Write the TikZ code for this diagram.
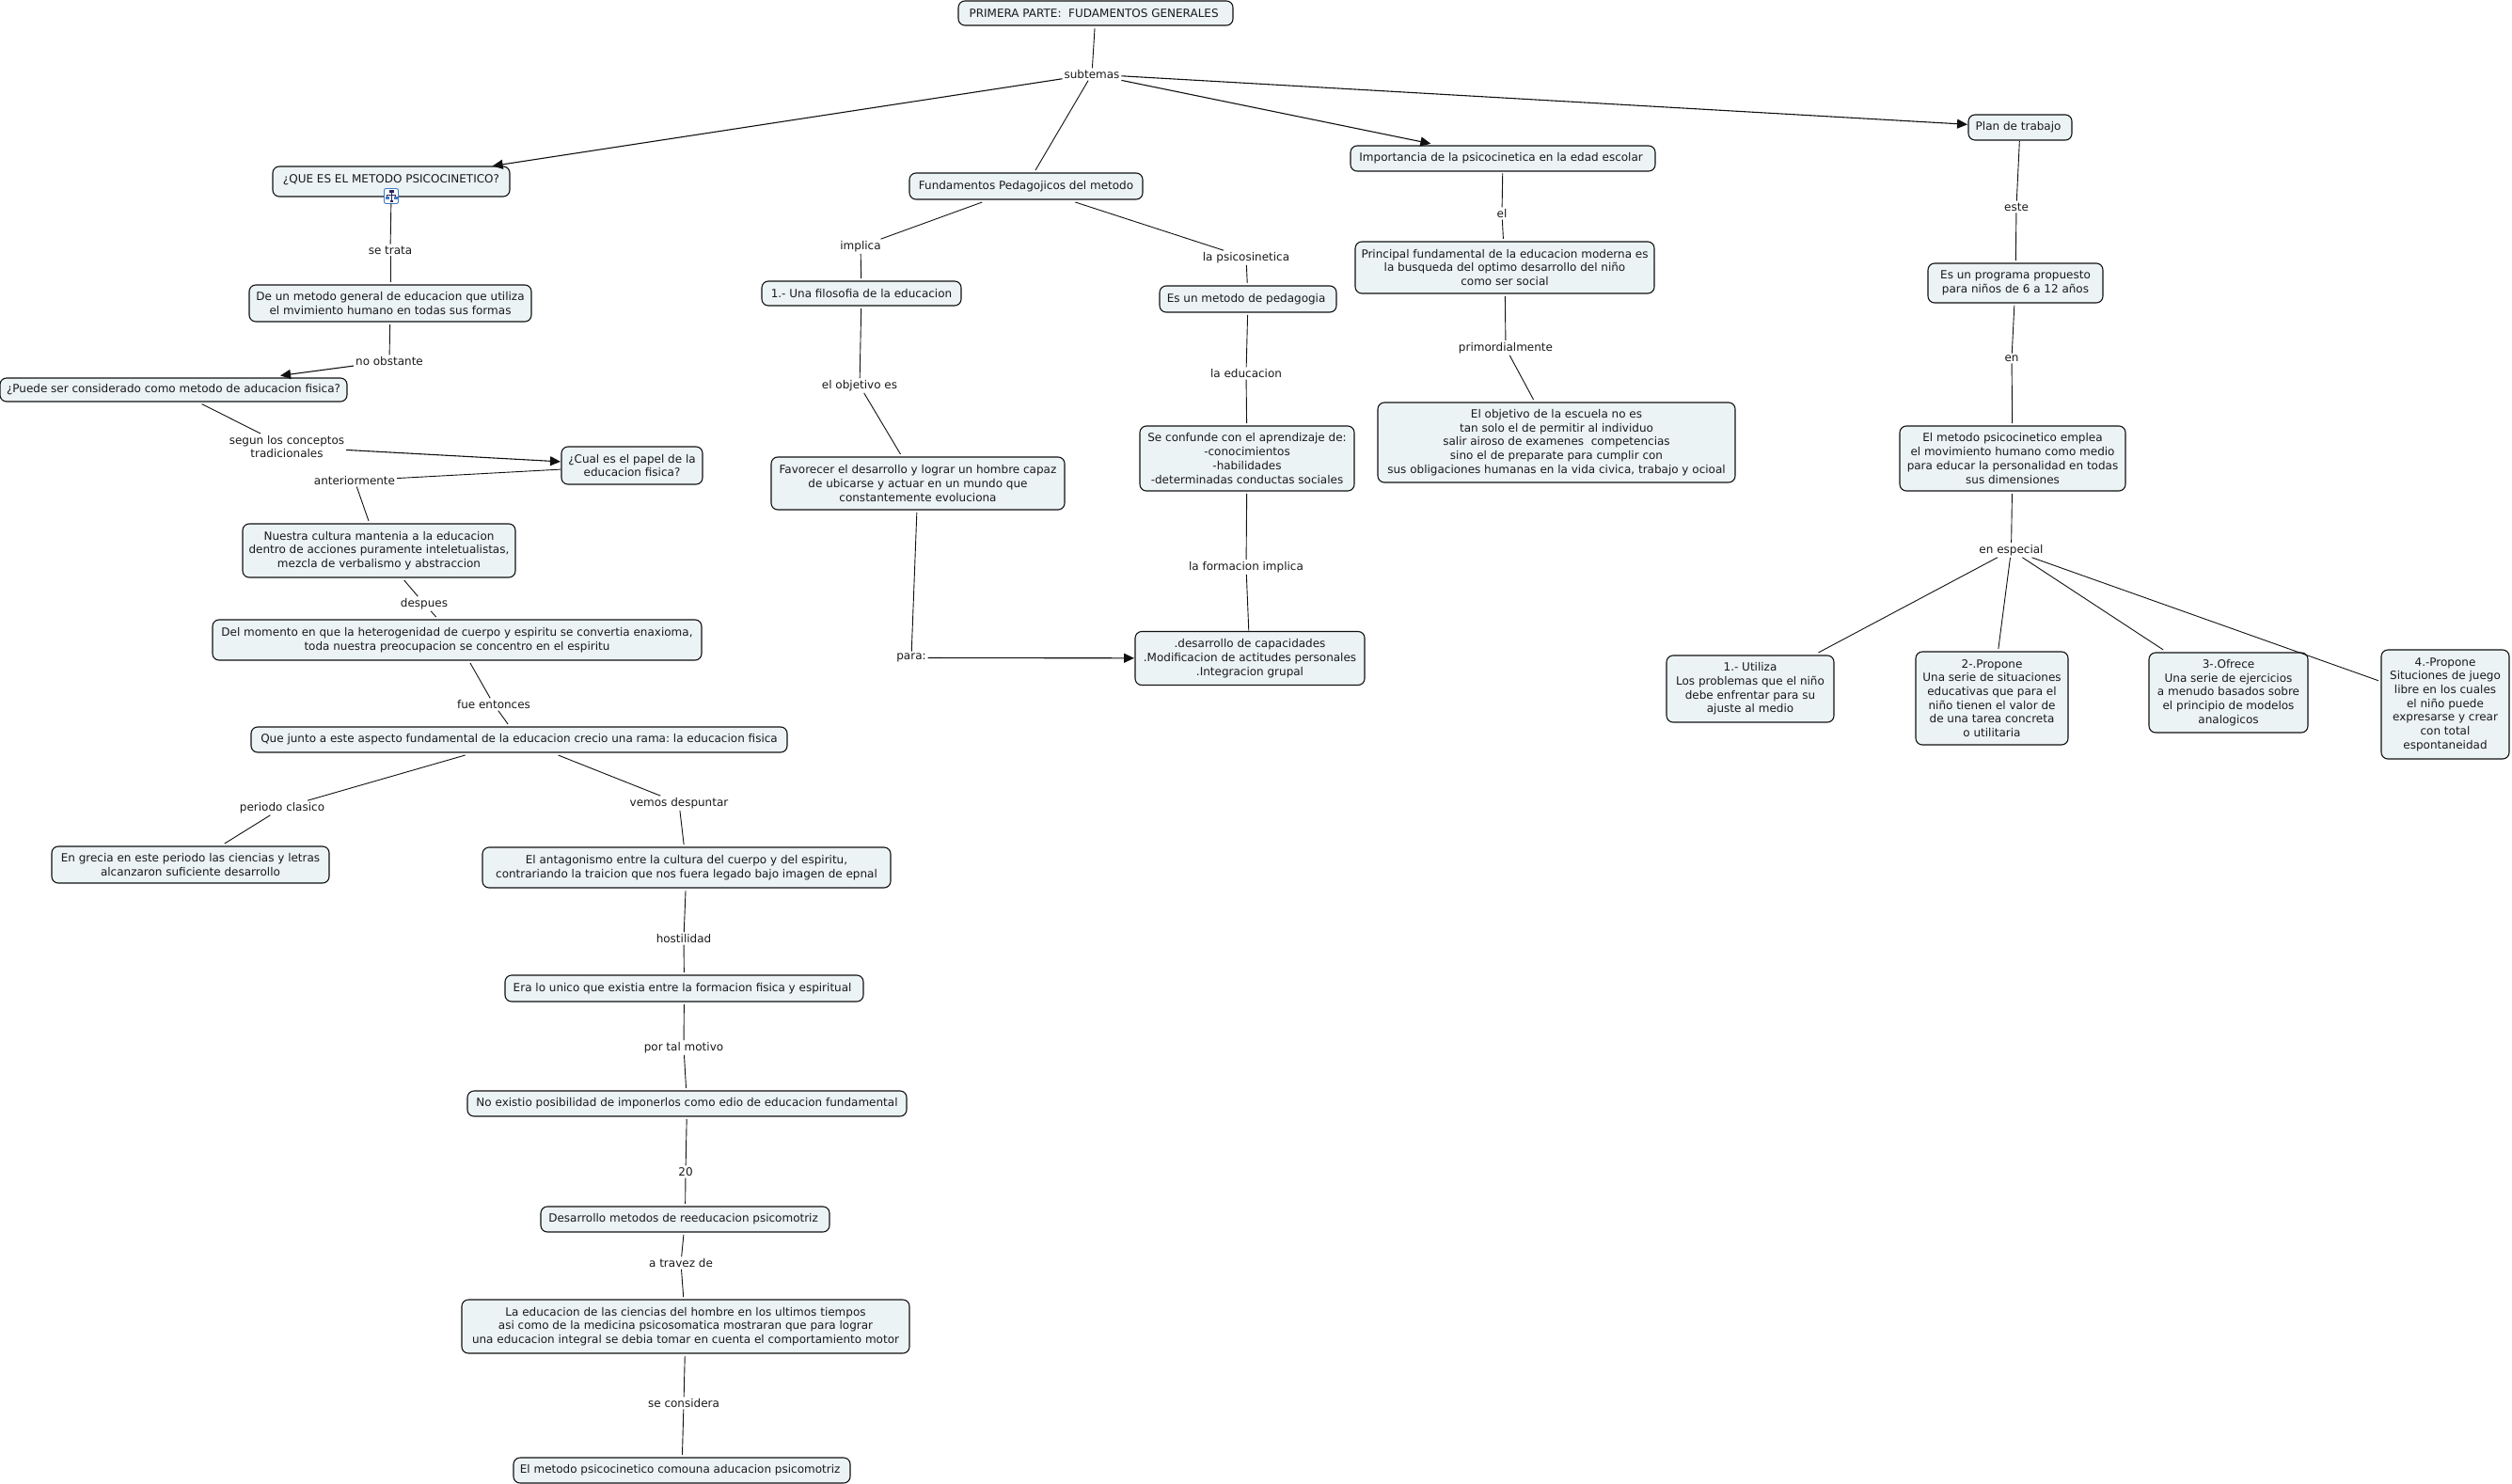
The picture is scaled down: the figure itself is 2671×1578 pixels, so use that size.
\documentclass[tikz,border=0pt]{standalone}
\usepackage{fontspec}
\setmainfont{DejaVu Sans}
\usetikzlibrary{arrows.meta}
\definecolor{boxfill}{HTML}{ECF3F5}
\definecolor{boxline}{HTML}{111111}
\definecolor{iconblue}{HTML}{3C78C8}
\definecolor{iconnavy}{HTML}{28285A}

\begin{document}
\begin{tikzpicture}[x=1pt, y=-1pt,
    every node/.style={font=\fontsize{12}{14.7}\selectfont, text=black!90},
    concept/.style={draw=boxline, fill=boxfill, rounded corners=7pt, line width=1.1pt, align=center, inner sep=0pt, outer sep=3pt},
    linker/.style={align=center, inner sep=2pt, outer sep=0pt},
    link/.style={draw=boxline, line width=0.9pt},
    linkto/.style={link, line width=1.1pt, -{Stealth[length=11pt, width=10pt, inset=0pt]}}]
  \useasboundingbox (0,0) rectangle (2671,1578);

  % Top of the map
  \node[concept, minimum width=292pt, minimum height=26pt] (top) at (1165,14) {PRIMERA PARTE:\ \ FUDAMENTOS GENERALES\ \null};
  \node[linker] (subtemas) at (1161,79) {subtemas};
  \node[concept, outer sep=0.5pt, minimum width=252pt, minimum height=32pt, text depth=5pt] (qmetodo) at (416,193) {¿QUE ES EL METODO PSICOCINETICO?};
  \node[concept, minimum width=248pt, minimum height=28pt] (fundamentos) at (1091,198) {Fundamentos Pedagojicos del metodo};
  \node[concept, outer sep=2.2pt, minimum width=324pt, minimum height=27pt] (importancia) at (1598,168.5) {Importancia de la psicocinetica en la edad escolar\ \null};
  \node[concept, outer sep=1pt, minimum width=110pt, minimum height=27pt] (plan) at (2148,135.5) {Plan de trabajo\ \null};

  % Icon on the first question
  \node[draw=iconblue, fill=white, rounded corners=2pt, line width=0.9pt, minimum width=15pt, minimum height=16pt, inner sep=0pt, outer sep=0pt] (qicon) at (416,208.5) {};
  \draw[iconnavy, line width=0.5pt] (416,203.5) -- (416,207) (411.5,211) -- (411.5,207) -- (420.5,207) -- (420.5,211) (416,207) -- (416,214);
  \fill[iconnavy] (413.5,202) rectangle (418.5,205);
  \fill[iconblue] (409.5,209) rectangle (413.5,212);
  \fill[iconblue] (418.5,209) rectangle (422.5,212);
  \fill[iconnavy] (414.5,213) rectangle (417.5,215.5);

  % Left branch
  \node[linker] (setrata) at (415,266) {se trata};
  \node[concept, minimum width=300pt, minimum height=39pt] (metodogral) at (415,322.5) {De un metodo general de educacion que utiliza\\el mvimiento humano en todas sus formas};
  \node[linker] (noobstante) at (414,384) {no obstante};
  \node[concept, outer sep=2.6pt, minimum width=369pt, minimum height=25pt] (puede) at (184.5,414.5) {¿Puede ser considerado como metodo de aducacion fisica?};
  \node[linker] (segun) at (305,475) {segun los conceptos\\tradicionales};
  \node[concept, outer sep=1pt, minimum width=150pt, minimum height=40pt] (cual) at (672,495) {¿Cual es el papel de la\\educacion fisica?};
  \node[linker] (anteriormente) at (377,511) {anteriormente};
  \node[concept, minimum width=290pt, minimum height=57pt] (nuestra) at (403,585.5) {Nuestra cultura mantenia a la educacion\\dentro de acciones puramente inteletualistas,\\mezcla de verbalismo y abstraccion};
  \node[linker] (despues) at (451,642) {despues};
  \node[concept, minimum width=520pt, minimum height=43pt] (momento) at (486,680.5) {Del momento en que la heterogenidad de cuerpo y espiritu se convertia enaxioma,\\toda nuestra preocupacion se concentro en el espiritu};
  \node[linker] (entonces) at (525,749) {fue entonces};
  \node[concept, minimum width=570pt, minimum height=27pt] (junto) at (552,786.5) {Que junto a este aspecto fundamental de la educacion crecio una rama:\ la educacion fisica};
  \node[linker] (periodo) at (300,859) {periodo clasico};
  \node[concept, minimum width=295pt, minimum height=39pt] (grecia) at (202.5,919.5) {En grecia en este periodo las ciencias y letras\\alcanzaron suficiente desarrollo};
  \node[linker] (vemos) at (722,854) {vemos despuntar};
  \node[concept, minimum width=434pt, minimum height=43pt] (antagonismo) at (730,922.5) {El antagonismo entre la cultura del cuerpo y del espiritu,\\contrariando la traicion que nos fuera legado bajo imagen de epnal};
  \node[linker] (hostilidad) at (727,998) {hostilidad};
  \node[concept, minimum width=381pt, minimum height=28pt] (era) at (727.5,1051) {Era lo unico que existia entre la formacion fisica y espiritual\ \null};
  \node[linker] (motivo) at (727,1114) {por tal motivo};
  \node[concept, minimum width=467pt, minimum height=27pt] (noexistio) at (730.5,1173.5) {No existio posibilidad de imponerlos como edio de educacion fundamental};
  \node[linker] (veinte) at (729,1246) {20};
  \node[concept, minimum width=307pt, minimum height=27pt] (desarrollo) at (728.5,1296.5) {Desarrollo metodos de reeducacion psicomotriz\ \null};
  \node[linker] (travez) at (724,1343) {a travez de};
  \node[concept, minimum width=476pt, minimum height=57pt] (ciencias) at (729,1410.5) {La educacion de las ciencias del hombre en los ultimos tiempos\\asi como de la medicina psicosomatica mostraran que para lograr\\una educacion integral se debia tomar en cuenta el comportamiento motor};
  \node[linker] (considera) at (727,1492) {se considera};
  \node[concept, minimum width=358pt, minimum height=27pt] (comouna) at (725,1563.5) {El metodo psicocinetico comouna aducacion psicomotriz\ \null};

  % Fundamentos branch
  \node[linker] (implica) at (915,262) {implica};
  \node[concept, minimum width=212pt, minimum height=26pt] (filosofia) at (916,312) {1.- Una filosofia de la educacion};
  \node[linker] (objetivo) at (914,410) {el objetivo es};
  \node[concept, minimum width=312pt, minimum height=56pt] (favorecer) at (976,514) {Favorecer el desarrollo y lograr un hombre capaz\\de ubicarse y actuar en un mundo que\\constantemente evoluciona};
  \node[linker] (para) at (969,699.5) {para:};
  \node[linker] (psicosinetica) at (1325,274) {la psicosinetica};
  \node[concept, minimum width=188pt, minimum height=28pt] (pedagogia) at (1327,318) {Es un metodo de pedagogia\ \null};
  \node[linker] (educacion) at (1325,397) {la educacion};
  \node[concept, minimum width=228pt, minimum height=69pt] (confunde) at (1326,487.5) {Se confunde con el aprendizaje de:\\-conocimientos\\-habilidades\\-determinadas conductas sociales};
  \node[linker] (formacion) at (1325,603) {la formacion implica};
  \node[concept, outer sep=1pt, minimum width=244pt, minimum height=57pt] (capacidades) at (1329,700) {.desarrollo de capacidades\\.Modificacion de actitudes personales\\.Integracion grupal};

  % Importancia branch
  \node[linker] (elnode) at (1597,227) {el};
  \node[concept, minimum width=318pt, minimum height=55pt] (principal) at (1600,284.5) {Principal fundamental de la educacion moderna es\\la busqueda del optimo desarrollo del niño\\como ser social};
  \node[linker] (primordial) at (1601,370) {primordialmente};
  \node[concept, minimum width=380pt, minimum height=85pt] (escuela) at (1655,470.5) {El objetivo de la escuela no es\\tan solo el de permitir al individuo\\salir airoso de examenes\ \ competencias\\sino el de preparate para cumplir con\\sus obligaciones humanas en la vida civica, trabajo y ocioal};

  % Plan branch
  \node[linker] (este) at (2144,220) {este};
  \node[concept, minimum width=186pt, minimum height=42pt] (programa) at (2143,301) {Es un programa propuesto\\para niños de 6 a 12 años};
  \node[linker] (ennode) at (2139,381) {en};
  \node[concept, minimum width=240pt, minimum height=69pt] (psico) at (2140,487.5) {El metodo psicocinetico emplea\\el movimiento humano como medio\\para educar la personalidad en todas\\sus dimensiones};
  \node[linker] (especial) at (2138.5,585) {en especial};
  \node[concept, minimum width=178pt, minimum height=71pt] (utiliza) at (1861,732.5) {1.- Utiliza\\Los problemas que el niño\\debe enfrentar para su\\ajuste al medio};
  \node[concept, minimum width=162pt, minimum height=99pt] (propone) at (2118,742.5) {2-.Propone\\Una serie de situaciones\\educativas que para el\\niño tienen el valor de\\de una tarea concreta\\o utilitaria};
  \node[concept, minimum width=169pt, minimum height=85pt] (ofrece) at (2369.5,736.5) {3-.Ofrece\\Una serie de ejercicios\\a menudo basados sobre\\el principio de modelos\\analogicos};
  \node[concept, minimum width=136pt, minimum height=116pt] (juego) at (2600,749) {4.-Propone\\Situciones de juego\\libre en los cuales\\el niño puede\\expresarse y crear\\con total\\espontaneidad};

  % Connectors from the top
  \draw[link] (top) -- (subtemas);
  \draw[linkto] (subtemas) -- (qmetodo);
  \draw[link] (subtemas) -- (fundamentos);
  \draw[linkto] (subtemas) -- (importancia);
  \draw[linkto] (subtemas) -- (plan);

  % Connectors of the left branch
  \draw[link] (qicon) -- (setrata);
  \draw[link] (setrata) -- (metodogral);
  \draw[link] (metodogral) -- (noobstante);
  \draw[linkto] (noobstante) -- (puede);
  \draw[link] (puede) -- (segun);
  \draw[linkto] (segun) -- (cual);
  \draw[link] (cual) -- (anteriormente);
  \draw[link] (anteriormente) -- (nuestra);
  \draw[link] (nuestra) -- (despues);
  \draw[link] (despues) -- (momento);
  \draw[link] (momento) -- (entonces);
  \draw[link] (entonces) -- (junto);
  \draw[link] (junto) -- (periodo);
  \draw[link] (periodo) -- (grecia);
  \draw[link] (junto) -- (vemos);
  \draw[link] (vemos) -- (antagonismo);
  \draw[link] (antagonismo) -- (hostilidad);
  \draw[link] (hostilidad) -- (era);
  \draw[link] (era) -- (motivo);
  \draw[link] (motivo) -- (noexistio);
  \draw[link] (noexistio) -- (veinte);
  \draw[link] (veinte) -- (desarrollo);
  \draw[link] (desarrollo) -- (travez);
  \draw[link] (travez) -- (ciencias);
  \draw[link] (ciencias) -- (considera);
  \draw[link] (considera) -- (comouna);

  % Connectors of the Fundamentos branch
  \draw[link] (fundamentos) -- (implica);
  \draw[link] (implica) -- (filosofia);
  \draw[link] (filosofia) -- (objetivo);
  \draw[link] (objetivo) -- (favorecer);
  \draw[link] (favorecer) -- (para);
  \draw[linkto] (para) -- (capacidades);
  \draw[link] (fundamentos) -- (psicosinetica);
  \draw[link] (psicosinetica) -- (pedagogia);
  \draw[link] (pedagogia) -- (educacion);
  \draw[link] (educacion) -- (confunde);
  \draw[link] (confunde) -- (formacion);
  \draw[link] (formacion) -- (capacidades);

  % Connectors of the Importancia branch
  \draw[link] (importancia) -- (elnode);
  \draw[link] (elnode) -- (principal);
  \draw[link] (principal) -- (primordial);
  \draw[link] (primordial) -- (escuela);

  % Connectors of the Plan branch
  \draw[link] (plan) -- (este);
  \draw[link] (este) -- (programa);
  \draw[link] (programa) -- (ennode);
  \draw[link] (ennode) -- (psico);
  \draw[link] (psico) -- (especial);
  \draw[link] (especial) -- (utiliza);
  \draw[link] (especial) -- (propone);
  \draw[link] (especial) -- (ofrece);
  \draw[link] (especial) -- (juego);
\end{tikzpicture}
\end{document}
